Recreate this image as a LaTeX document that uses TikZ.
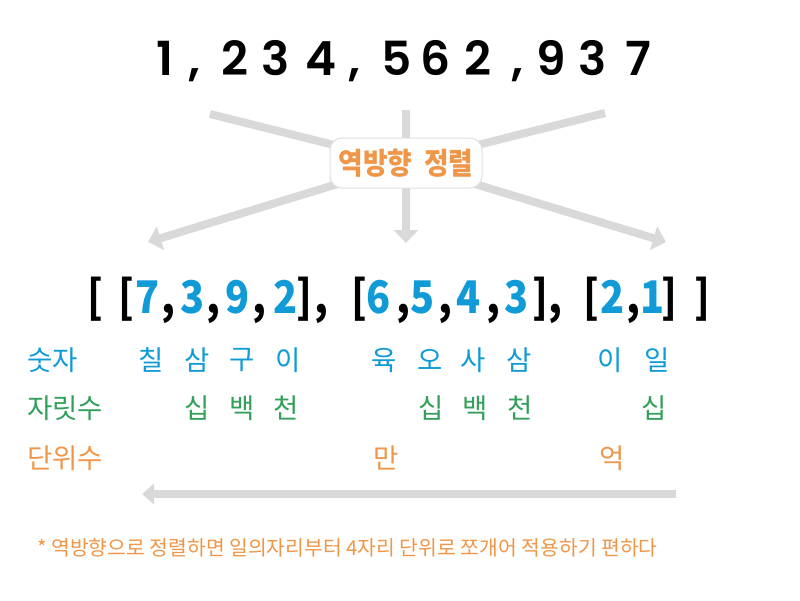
\documentclass[tikz,border=0pt]{standalone}
\usepackage{fontspec}
\usetikzlibrary{arrows.meta}
\newfontfamily\kr{Noto Sans CJK KR}
\newfontfamily\pop{Poppins}[UprightFont=* SemiBold]
\newfontfamily\brk{Noto Sans CJK KR}[FakeStretch=0.88]
\definecolor{cblue}{RGB}{16,155,215}
\definecolor{cgreen}{RGB}{50,160,90}
\definecolor{corange}{RGB}{240,150,72}
\definecolor{cgray}{RGB}{217,217,217}
\definecolor{cborder}{RGB}{224,224,224}
\begin{document}
\begin{tikzpicture}[x=1pt,y=-1pt,
  titlech/.style={font=\pop\fontsize{47}{47}\selectfont, anchor=base, inner sep=0pt, text=black},
  brch/.style={font=\brk\bfseries\fontsize{45}{45}\selectfont, anchor=base, inner sep=0pt},
  krch/.style={font=\kr\fontsize{27.5}{27.5}\selectfont, anchor=center, inner sep=0pt},
  krlab/.style={font=\kr\fontsize{27.5}{27.5}\selectfont, anchor=west, inner sep=0pt},
  grayline/.style={draw=cgray, line width=8pt},
  grayarrow/.style={draw=cgray, line width=8pt, -{Triangle[width=24pt,length=13pt]}},
  sortbox/.style={draw=cborder, line width=1pt, fill=white, rounded corners=12pt,
     minimum width=152pt, minimum height=50pt, inner sep=0pt, text=corange,
     font=\kr\bfseries\fontsize{30}{30}\selectfont},
  note/.style={font=\kr\fontsize{20.4}{20.4}\selectfont, text=corange, anchor=west, inner sep=0pt}
]
\useasboundingbox (0,0) rectangle (800,600);
\fill[white] (0,0) rectangle (800,600);

% title
\foreach \x/\c [count=\i] in {165/1,194/{,},235/2,276/3,321/4,354/{,},397/5,436/6,478/2,517/{,},551/9,593/3,638/7}
  \node[titlech] (t\i) at (\x,75) {\c};

% arrows and box
\coordinate (c) at (406,163);
\coordinate (tl) at (210,114);
\coordinate (tm) at (406,110);
\coordinate (tr) at (605,113);
\coordinate (bl) at (148,242);
\coordinate (bm) at (406,243);
\coordinate (br) at (666,242);
\draw[grayline] (tl) -- (c);
\draw[grayline] (tm) -- (c);
\draw[grayline] (tr) -- (c);
\draw[grayarrow] (c) -- (bl);
\draw[grayarrow] (c) -- (bm);
\draw[grayarrow] (c) -- (br);
\node[sortbox] (sort) at (c) {\scalebox{0.89}[1]{역방향\hspace{13pt}정렬}};

% bracket row
\foreach \x/\c/\col [count=\i] in {95/{[}/black,126/{[}/black,148/7/cblue,168/{,}/black,193/3/cblue,213/{,}/black,238/9/cblue,259/{,}/black,286/2/cblue,304/{]}/black,321/{,}/black,
  359/{[}/black,379/6/cblue,403/{,}/black,423/5/cblue,445/{,}/black,469/4/cblue,493/{,}/black,517/3/cblue,540/{]}/black,555/{,}/black,
  591/{[}/black,613/2/cblue,633/{,}/black,653/1/cblue,669/{]}/black,702/{]}/black}
  \node[brch, text=\col] (b\i) at (\x,313) {\c};

% labels
\node[krlab, text=cblue] (lab1) at (27,360) {숫자};
\node[krlab, text=cgreen] (lab2) at (27,408) {자릿수};
\node[krlab, text=corange] (lab3) at (27,458) {단위수};

% digit names
\foreach \x/\c [count=\i] in {151/칠,197/삼,242/구,288/이,384/육,430/오,473/사,519/삼,610/이,657/일}
  \node[krch, text=cblue] (n\i) at (\x,360) {\c};
% place names
\foreach \x/\c [count=\i] in {197/십,242/백,286/천,431/십,475/백,520/천,654/십}
  \node[krch, text=cgreen] (p\i) at (\x,408) {\c};
% units
\node[krch, text=corange] (u1) at (386,458) {만};
\node[krch, text=corange] (u2) at (612,458) {억};

% bottom arrow
\coordinate (ra) at (676,494);
\coordinate (la) at (142,494);
\draw[draw=cgray, line width=7.5pt, -{Triangle[width=20pt,length=12pt]}] (ra) -- (la);

% footnote
\node[note] (fn) at (37,548) {* 역방향으로 정렬하면 일의자리부터 4자리 단위로 쪼개어 적용하기 편하다};
\end{tikzpicture}
\end{document}
